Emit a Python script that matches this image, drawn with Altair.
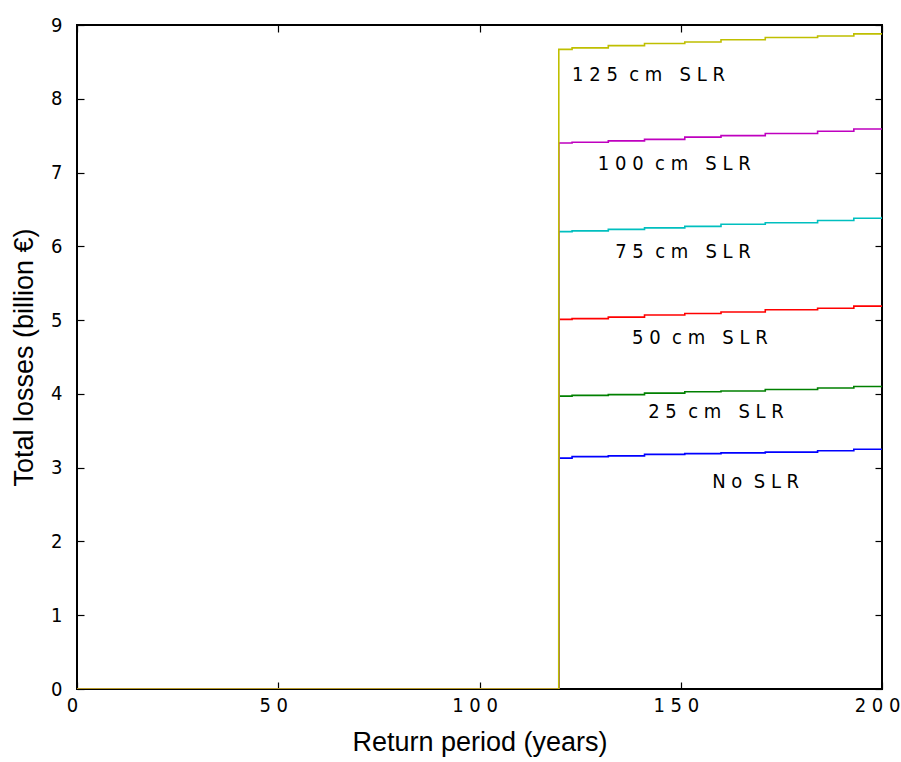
import altair as alt
import pandas as pd

# Return period grid (years)
x_years = [0, 119.0, 119.7, 123, 132, 141, 151, 160, 171, 184, 193, 200]

# Total losses (billion EUR), one list per scenario
no_slr = [0, 0, 3.13, 3.15, 3.16, 3.18, 3.19, 3.20, 3.21, 3.23, 3.25, 3.25]
slr_25 = [0, 0, 3.97, 3.98, 3.99, 4.01, 4.03, 4.04, 4.06, 4.08, 4.10, 4.11]
slr_50 = [0, 0, 5.01, 5.02, 5.04, 5.07, 5.09, 5.11, 5.14, 5.16, 5.19, 5.20]
slr_75 = [0, 0, 6.20, 6.21, 6.23, 6.25, 6.27, 6.30, 6.32, 6.35, 6.38, 6.40]
slr_100 = [0, 0, 7.40, 7.41, 7.43, 7.45, 7.48, 7.50, 7.53, 7.56, 7.59, 7.60]
slr_125 = [0, 0, 8.67, 8.69, 8.72, 8.75, 8.77, 8.80, 8.83, 8.85, 8.88, 8.88]

series_names = ["No SLR", "25 cm SLR", "50 cm SLR", "75 cm SLR", "100 cm SLR", "125 cm SLR"]
series_values = [no_slr, slr_25, slr_50, slr_75, slr_100, slr_125]
series_colors = ["#0000ff", "#008000", "#ff0000", "#00bfbf", "#bf00bf", "#bfbf00"]

NB = "\u00a0"
# In-plot annotation labels (letter-spaced as in the original)
label_texts = [
    NB.join(["N", "o", "", "S", "L", "R"]),
    NB.join(["2", "5", "", "c", "m", "", "", "S", "L", "R"]),
    NB.join(["5", "0", "", "c", "m", "", "", "S", "L", "R"]),
    NB.join(["7", "5", "", "c", "m", "", "", "S", "L", "R"]),
    NB.join(["1", "0", "0", "", "c", "m", "", "", "S", "L", "R"]),
    NB.join(["1", "2", "5", "", "c", "m", "", "", "S", "L", "R"]),
]
label_x = [157.8, 141.9, 137.9, 133.7, 129.4, 123.0]
label_y = [2.80, 3.75, 4.76, 5.92, 7.12, 8.32]

x_ticks = [0, 50, 100, 150, 200]
y_ticks = [0, 1, 2, 3, 4, 5, 6, 7, 8, 9]

rows = []
for order, (name, vals) in enumerate(zip(series_names, series_values)):
    for xv, yv in zip(x_years, vals):
        rows.append({"series": name, "order": order, "x": xv, "y": yv})
df = pd.DataFrame(rows)
labels_df = pd.DataFrame({"text": label_texts, "x": label_x, "y": label_y})

NARROW = "DejaVu Sans Condensed, Liberation Sans Narrow, sans-serif"
TITLEFONT = "Liberation Sans, Arial, sans-serif"
PW, PH = 805, 664
FS = 20

xscale = alt.Scale(domain=[0, 200], nice=False, zero=False)
yscale = alt.Scale(domain=[0, 9], nice=False, zero=False)
spaced = "join(split(datum.label, ''), '\u00a0')"

lines = alt.Chart(df).mark_line(strokeWidth=1.6, clip=True, interpolate="step-after").encode(
    x=alt.X("x:Q", scale=xscale, axis=alt.Axis(
        values=x_ticks, labelExpr=spaced, ticks=False, domain=False, grid=False,
        labelFont=NARROW, labelFontSize=FS, labelColor="black", labelPadding=6,
        labelOffset=-5, labelFlush=False, labelOverlap=False,
        title="Return period (years)", titleFont=TITLEFONT, titleFontSize=27,
        titleFontWeight="normal", titleColor="black", titlePadding=14)),
    y=alt.Y("y:Q", scale=yscale, axis=alt.Axis(
        values=y_ticks, ticks=False, domain=False, grid=False,
        labelFont=NARROW, labelFontSize=FS, labelColor="black", labelPadding=15,
        labelFlush=False, labelOverlap=False,
        title="Total losses (billion €)", titleFont=TITLEFONT, titleFontSize=27,
        titleFontWeight="normal", titleColor="black", titlePadding=12)),
    color=alt.Color("series:N", scale=alt.Scale(domain=series_names, range=series_colors), legend=None),
    order=alt.Order("order:Q"),
)

tick_axis = dict(ticks=True, tickSize=7, tickColor="black", tickWidth=1.2,
                 labels=False, domain=False, grid=False, title=None)

# inward ticks on the bottom and left edges
ticks_a = alt.Chart(df).mark_point(opacity=0).encode(
    x=alt.X("x:Q", scale=xscale, axis=alt.Axis(orient="top", offset=-PH, values=x_ticks, **tick_axis)),
    y=alt.Y("y:Q", scale=yscale, axis=alt.Axis(orient="right", offset=-PW, values=y_ticks, **tick_axis)),
)
# inward ticks on the top and right edges
ticks_b = alt.Chart(df).mark_point(opacity=0).encode(
    x=alt.X("x:Q", scale=xscale, axis=alt.Axis(orient="bottom", offset=-PH, values=x_ticks, **tick_axis)),
    y=alt.Y("y:Q", scale=yscale, axis=alt.Axis(orient="left", offset=-PW, values=y_ticks, **tick_axis)),
)

texts = alt.Chart(labels_df).mark_text(
    align="left", baseline="middle", font=NARROW, fontSize=FS, color="black"
).encode(x=alt.X("x:Q", scale=xscale, axis=None), y=alt.Y("y:Q", scale=yscale, axis=None), text="text:N")

chart = alt.layer(lines, texts, ticks_a, ticks_b).resolve_axis(
    x="independent", y="independent"
).properties(
    width=PW, height=PH,
    autosize=alt.AutoSizeParams(type="none"),
    padding={"left": 77, "top": 25, "right": 19, "bottom": 73},
    background="white",
).configure_view(stroke="black", strokeWidth=2)

chart.save("out.html", embed_options={"renderer": "svg", "actions": False})
